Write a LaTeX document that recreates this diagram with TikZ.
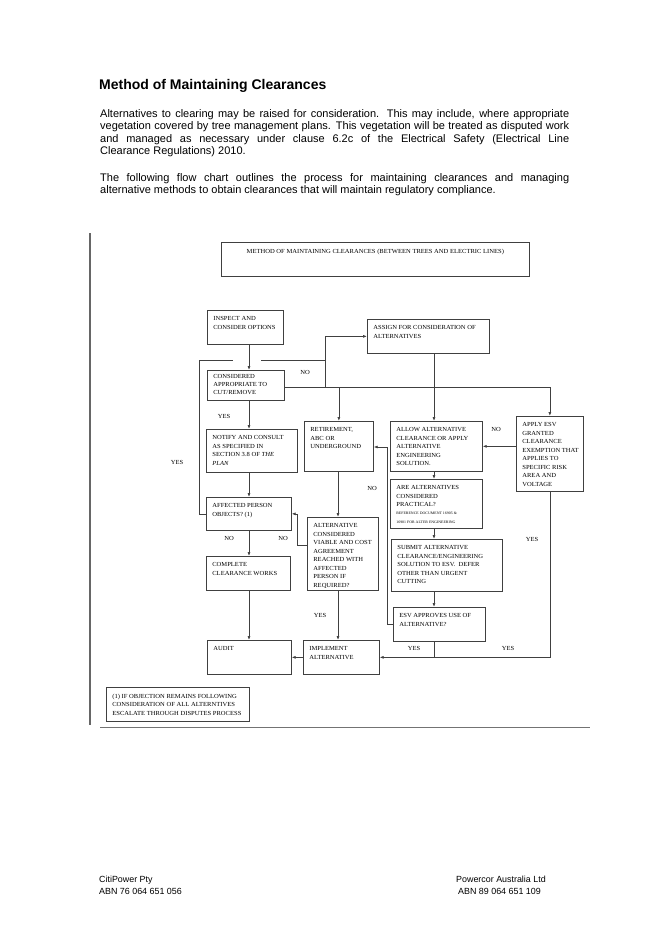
\documentclass[tikz,border=0pt]{standalone}
\usepackage{fontspec}
\setmainfont{Liberation Sans}
\newfontfamily\chartfont[FakeStretch=1.06]{Liberation Serif}
\usetikzlibrary{arrows.meta}
\newcommand{\boxtxt}[3]{\parbox[t][\dimexpr#2pt-13pt\relax][t]{\dimexpr#1pt-12pt\relax}{\raggedright\rightskip=-20pt plus 1fil #3}}
\tikzstyle{box} = [draw=black!75, line width=.7pt, anchor=north west, inner xsep=6pt, inner ysep=6.5pt, font=\chartfont\fontsize{6.2}{8.5}\selectfont]
\tikzstyle{lbl} = [inner sep=0pt, font=\chartfont\fontsize{6.2}{8.5}\selectfont]
\tikzstyle{wire} = [draw=black!75, line width=.7pt]
\tikzstyle{arr} = [wire, -{Latex[length=4pt,width=3pt]}]
\tikzstyle{page} = [inner sep=0pt, anchor=north west, text width=469pt, align=justify, font=\fontsize{11}{12.6}\selectfont]
\tikzstyle{foot} = [inner sep=0pt, anchor=north west, align=left, font=\fontsize{8.9}{11.5}\selectfont]

\begin{document}
\begin{tikzpicture}[x=1pt, y=-1pt]
    \useasboundingbox (0,0) rectangle (660,934);

    % page text
    \node[inner sep=0pt, anchor=west, font=\bfseries\fontsize{14}{16}\selectfont] (heading) at (99,86) {Method of Maintaining Clearances};
    \node[page] (intro) at (100,109) {Alternatives to clearing may be raised for consideration. This may include, where appropriate\linebreak
        vegetation covered by tree management plans. This vegetation will be treated as disputed work\linebreak
        and managed as necessary under clause 6.2c of the Electrical Safety (Electrical Line\linebreak
        Clearance Regulations) 2010.};
    \node[page] (outline) at (100,173) {The following flow chart outlines the process for maintaining clearances and managing\linebreak
        alternative methods to obtain clearances that will maintain regulatory compliance.};
    \node[foot] (citi) at (99,876) {CitiPower Pty\\ABN 76 064 651 056};
    \node[foot] (powercor) at (456,876) {Powercor Australia Ltd\\\hspace*{2pt}ABN 89 064 651 109};

    \draw[black!60, line width=1.5pt] (90,233) -- (90,725);
    \draw[black!55, line width=.8pt] (100,727) -- (590,727);

    % boxes
    \node[box] (title) at (221,242) {\boxtxt{308}{34}{\centering METHOD OF MAINTAINING CLEARANCES (BETWEEN TREES AND ELECTRIC LINES)}};
    \node[box] (inspect) at (207,310) {\boxtxt{76}{34}{INSPECT AND\\CONSIDER OPTIONS}};
    \node[box] (assign) at (367,319) {\boxtxt{122}{34}{ASSIGN FOR CONSIDERATION OF\\ALTERNATIVES}};
    \node[box, inner ysep=4.5pt] (considered) at (207,370) {\boxtxt{77}{34}{\fontsize{6.2}{8}\selectfont CONSIDERED\\APPROPRIATE TO\\CUT/REMOVE\par}};
    \node[box] (notify) at (206,429) {\boxtxt{91}{43}{NOTIFY AND CONSULT\\AS SPECIFIED IN\\SECTION 3.8 OF \textit{THE}\\\textit{PLAN}}};
    \node[box] (affected) at (206,497) {\boxtxt{85}{33}{AFFECTED PERSON\\OBJECTS? (1)}};
    \node[box] (complete) at (206,556) {\boxtxt{84}{34}{COMPLETE\\CLEARANCE WORKS}};
    \node[box] (audit) at (207,640) {\boxtxt{84}{34}{AUDIT}};
    \node[box] (retirement) at (304,421) {\boxtxt{69}{50}{RETIREMENT,\\ABC OR\\UNDERGROUND}};
    \node[box] (altcons) at (307,517) {\boxtxt{71}{73}{ALTERNATIVE\\CONSIDERED\\VIABLE AND COST\\AGREEMENT\\REACHED WITH\\AFFECTED\\PERSON IF\\REQUIRED?}};
    \node[box] (implement) at (303,640) {\boxtxt{76}{34}{IMPLEMENT\\ALTERNATIVE}};
    \node[box] (allow) at (390,421) {\boxtxt{92}{50}{ALLOW ALTERNATIVE\\CLEARANCE OR APPLY\\ALTERNATIVE\\ENGINEERING\\SOLUTION.}};
    \node[box] (practical) at (390,479) {\boxtxt{92}{49}{ARE ALTERNATIVES\\CONSIDERED\\PRACTICAL?\\{\fontsize{3.7}{8}\selectfont REFERENCE DOCUMENT 16905 \&\\16901 FOR ALTER ENGINEERING}}};
    \node[box] (submit) at (391,539) {\boxtxt{111}{52}{SUBMIT ALTERNATIVE\\CLEARANCE/ENGINEERING\\SOLUTION TO ESV.\ \ DEFER\\OTHER THAN URGENT\\CUTTING}};
    \node[box] (esvapp) at (393,607) {\boxtxt{92}{34}{ESV APPROVES USE OF\\ALTERNATIVE?}};
    \node[box] (exempt) at (516,416) {\boxtxt{67}{75}{APPLY ESV\\GRANTED\\CLEARANCE\\EXEMPTION THAT\\APPLIES TO\\SPECIFIC RISK\\AREA AND\\VOLTAGE}};
    \node[box] (note) at (106,687) {\boxtxt{143}{34}{(1) IF OBJECTION REMAINS FOLLOWING\\CONSIDERATION OF ALL ALTERNTIVES\\ESCALATE THROUGH DISPUTES PROCESS}};

    % turning points
    \coordinate (c1) at (249,0);
    \coordinate (c2) at (338,0);
    \coordinate (c3) at (434,0);
    \coordinate (j1) at (325,387);
    \coordinate (loop) at (199,360);
    \coordinate (hopL) at (233,360);
    \coordinate (hopR) at (261,360);
    \coordinate (k1) at (387,447);
    \coordinate (m1) at (297,545);

    % connectors
    \draw[arr] (inspect.south -| c1) -- (considered.north -| c1);
    \draw[arr] (considered.south -| c1) -- (notify.north -| c1);
    \draw[arr] (notify.south -| c1) -- (affected.north -| c1);
    \draw[arr] (affected.south -| c1) -- (complete.north -| c1);
    \draw[arr] (complete.south -| c1) -- (audit.north -| c1);
    \draw[arr] (considered.east |- j1) -- (j1) |- (assign.west);
    \draw[wire] (j1) -- (exempt.north |- j1);
    \draw[arr] (retirement.north |- j1) -- (retirement.north);
    \draw[arr] (exempt.north |- j1) -- (exempt.north);
    \draw[arr] (assign.south -| c3) -- (allow.north -| c3);
    \draw[wire] (affected.west) -| (loop) -- (hopL);
    \draw[wire] (hopR) -- (j1 |- hopR);
    \draw[arr] (exempt.west |- allow.east) -- (allow.east);
    \draw[arr] (allow.south -| c3) -- (practical.north -| c3);
    \draw[arr] (practical.south -| c3) -- (submit.north -| c3);
    \draw[arr] (submit.south -| c3) -- (esvapp.north -| c3);
    \draw[arr] (esvapp.west) -| (k1) -- (retirement.east |- k1);
    \draw[arr] (esvapp.south -| c3) |- (implement.east);
    \draw[wire] (exempt.south) |- (c3 |- implement.east);
    \draw[arr] (implement.west) -- (audit.east);
    \draw[arr] (retirement.south -| c2) -- (altcons.north -| c2);
    \draw[arr] (altcons.south -| c2) -- (implement.north -| c2);
    \draw[arr] (altcons.west |- m1) -- (m1) |- (affected.east);

    % answers
    \node[lbl] (yes1) at (224,416) {YES};
    \node[lbl] (no1) at (305,372) {NO};
    \node[lbl] (yes2) at (177,462) {YES};
    \node[lbl] (no2) at (229,538) {NO};
    \node[lbl] (no3) at (283,538) {NO};
    \node[lbl] (no4) at (372,488) {NO};
    \node[lbl] (no5) at (496,429) {NO};
    \node[lbl] (yes3) at (320,615) {YES};
    \node[lbl] (yes4) at (532,539) {YES};
    \node[lbl] (yes5) at (414,648) {YES};
    \node[lbl] (yes6) at (508,648) {YES};
\end{tikzpicture}
\end{document}
